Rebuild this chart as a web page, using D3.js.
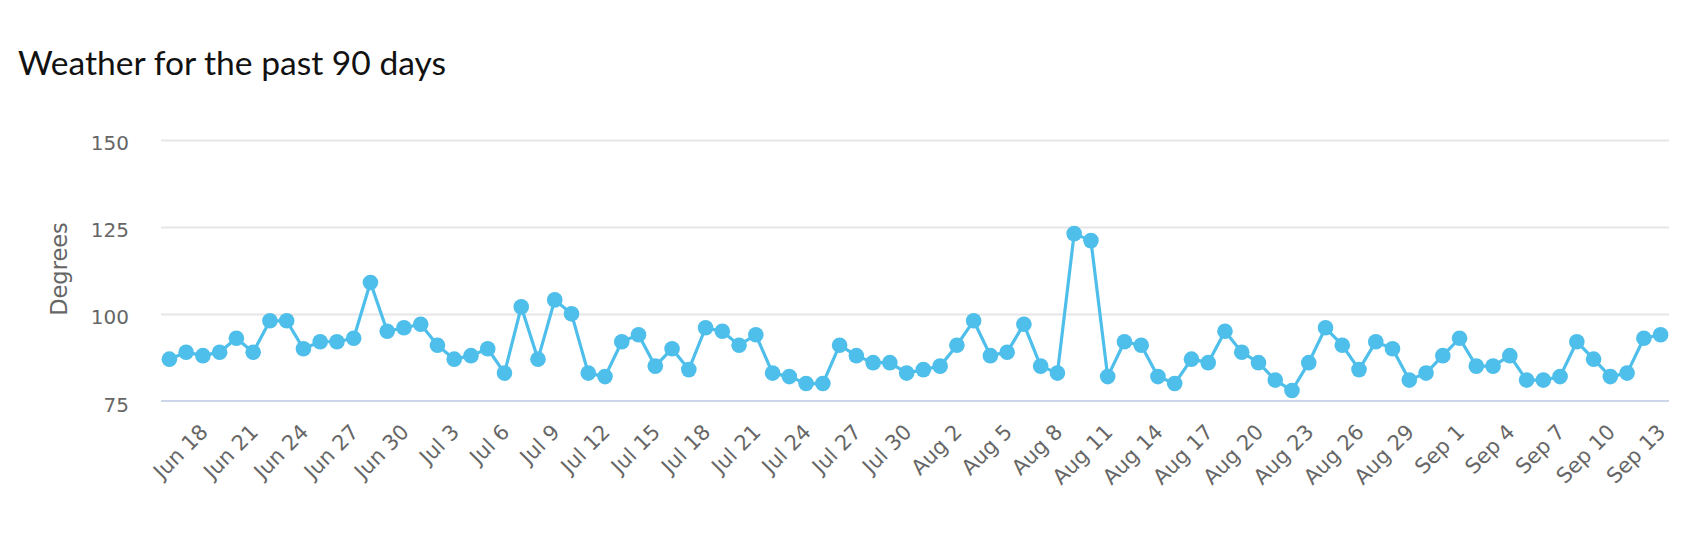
<!DOCTYPE html>
<html>
<head>
<meta charset="utf-8">
<script src="https://cdn.jsdelivr.net/npm/d3@7"></script>
<style>
  html, body { margin: 0; padding: 0; background: #fff; }
  svg { display: block; }
</style>
</head>
<body>
<svg id="chart" width="1690" height="536"></svg>
<script>
const title = "Weather for the past 90 days";
const yAxisTitle = "Degrees";
const startDate = "2023-06-16";
const values = [
  87, 89, 88, 89, 93, 89, 98, 98, 90, 92,
  92, 93, 109, 95, 96, 97, 91, 87, 88, 90,
  83, 102, 87, 104, 100, 83, 82, 92, 94, 85,
  90, 84, 96, 95, 91, 94, 83, 82, 80, 80,
  91, 88, 86, 86, 83, 84, 85, 91, 98, 88,
  89, 97, 85, 83, 123, 121, 82, 92, 91, 82,
  80, 87, 86, 95, 89, 86, 81, 78, 86, 96,
  91, 84, 92, 90, 81, 83, 88, 93, 85, 85,
  88, 81, 81, 82, 92, 87, 82, 83, 93, 94
];
const yTicks = [75, 100, 125, 150];
const yDomain = [75, 150];

const fmt = d3.timeFormat("%b %-d");
const parse = d3.timeParse("%Y-%m-%d");
const d0 = parse(startDate);
const categories = values.map((v, i) => fmt(d3.timeDay.offset(d0, i)));
const data = values.map((v, i) => ({ cat: categories[i], i, v }));
const tickCats = categories.filter((c, i) => i % 3 === 2);

const svg = d3.select("#chart");
const mLeft = 161, mRight = 1669, mTop = 139.5, mBottom = 401;

const x = d3.scaleBand().domain(categories).range([mLeft, mRight]).padding(0);
const y = d3.scaleLinear().domain(yDomain).range([mBottom, mTop]);
const cx = d => x(d.cat) + x.bandwidth() / 2;

// title
svg.append("text")
  .attr("x", 18).attr("y", 75)
  .attr("font-family", "Lato, sans-serif")
  .attr("font-size", 33.6)
  .attr("fill", "#111")
  .text(title);

// gridlines
svg.append("g").selectAll("line")
  .data(yTicks.filter(t => t !== yDomain[0]))
  .join("line")
  .attr("x1", mLeft).attr("x2", mRight)
  .attr("y1", d => Math.round(y(d)) + 0.5).attr("y2", d => Math.round(y(d)) + 0.5)
  .attr("stroke", "#e6e6e6").attr("stroke-width", 2);

// y axis labels
const yAxis = d3.axisLeft(y).tickValues(yTicks).tickSize(0).tickPadding(0);
const yg = svg.append("g").attr("transform", `translate(129,0)`).call(yAxis);
yg.select(".domain").remove();
yg.selectAll("text")
  .attr("font-family", "'DejaVu Sans', sans-serif")
  .attr("font-size", 20)
  .attr("fill", "#666")
  .attr("dy", "0.5em");

// y axis title
svg.append("text")
  .attr("transform", "translate(67,269) rotate(-90)")
  .attr("text-anchor", "middle")
  .attr("font-family", "'DejaVu Sans', sans-serif")
  .attr("font-size", 22.5)
  .attr("fill", "#666")
  .text(yAxisTitle);

// x axis
const xAxis = d3.axisBottom(x).tickValues(tickCats).tickSize(0).tickPadding(0);
const xg = svg.append("g").attr("transform", `translate(0,${mBottom})`).call(xAxis);
xg.select(".domain").remove();
xg.selectAll(".tick text")
  .attr("font-family", "'DejaVu Sans', sans-serif")
  .attr("font-size", 21)
  .attr("fill", "#666")
  .attr("text-anchor", "end")
  .attr("x", 0).attr("y", 0).attr("dy", "0.35em")
  .attr("transform", "translate(1,27) rotate(-45)");

// axis line
svg.append("line")
  .attr("x1", mLeft).attr("x2", mRight)
  .attr("y1", mBottom).attr("y2", mBottom)
  .attr("stroke", "#ccd6eb").attr("stroke-width", 2);

// series line
const line = d3.line().x(cx).y(d => y(d.v));
svg.append("path")
  .datum(data)
  .attr("d", line)
  .attr("fill", "none")
  .attr("stroke", "#4ebeea")
  .attr("stroke-width", 3.2)
  .attr("stroke-linejoin", "round");

svg.append("g").selectAll("circle")
  .data(data)
  .join("circle")
  .attr("cx", cx)
  .attr("cy", d => y(d.v))
  .attr("r", 7.8)
  .attr("fill", "#4ebeea");
</script>
</body>
</html>
